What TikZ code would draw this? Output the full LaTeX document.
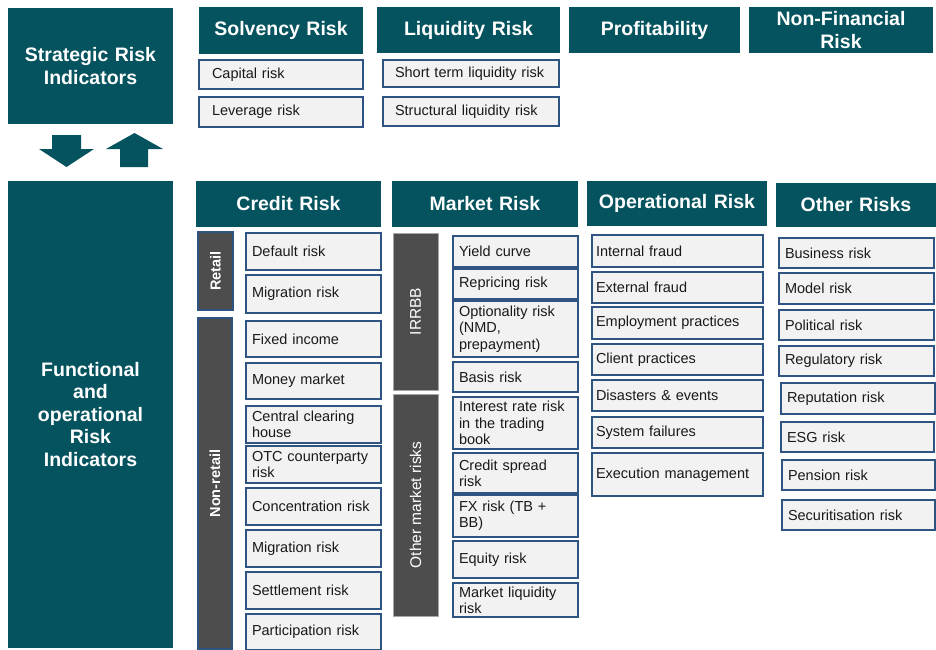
\documentclass[tikz,border=0pt]{standalone}
\usepackage{fontspec}
\setmainfont{Liberation Sans}
\definecolor{teal1}{HTML}{04535E}
\definecolor{bargray}{HTML}{4D4D4D}
\definecolor{itemfill}{HTML}{F2F2F2}
\definecolor{itemline}{HTML}{2F5482}
\tikzset{
 hdr/.style={fill=teal1, text=white, font=\fontsize{19.5}{22.5}\selectfont\bfseries, align=center, inner sep=0pt},
 item/.style={fill=itemfill, draw=itemline, line width=1.3pt, text=black!90, font=\fontsize{14.5}{16.3}\selectfont, align=left, inner ysep=0pt},
 bar/.style={fill=bargray, text=white, inner sep=0pt},
 barb/.style={bar, draw=itemline, line width=1.2pt, font=\fontsize{14.5}{16}\selectfont\bfseries},
 barg/.style={bar, draw=gray!70, line width=0.6pt, font=\fontsize{15.5}{17}\selectfont},
 arr/.style={fill=teal1},
}
% #1 x1, #2 y1, #3 x2, #4 y2, #5 name, #6 text
\newcommand\mkhdr[6]{%
 \pgfmathsetmacro\bw{#3-#1}\pgfmathsetmacro\bh{#4-#2}%
 \node[hdr, minimum width=\bw pt, minimum height=\bh pt, text width=\bw pt] (#5) at ({(#1+#3)/2},{(#2+#4)/2}) {#6};}
% #1 pad, #2 x1, #3 y1, #4 x2, #5 y2, #6 name, #7 text
\newcommand\mkitem[7]{%
 \pgfmathsetmacro\bw{#4-#2}\pgfmathsetmacro\bh{#5-#3}\pgfmathsetmacro\tw{#4-#2-2*#1}%
 \node[item, minimum width=\bw pt, minimum height=\bh pt, text width=\tw pt, inner xsep=#1pt] (#6) at ({(#2+#4)/2},{(#3+#5)/2}) {#7};}
% #1 style, #2 x1, #3 y1, #4 x2, #5 y2, #6 name, #7 text
\newcommand\mkbar[7]{%
 \pgfmathsetmacro\bw{#4-#2}\pgfmathsetmacro\bh{#5-#3}%
 \node[#1, rotate=90, minimum width=\bh pt, minimum height=\bw pt] (#6) at ({(#2+#4)/2},{(#3+#5)/2}) {#7};}
\begin{document}
\begin{tikzpicture}[x=1pt,y=-1pt]
\useasboundingbox (0,0) rectangle (936,649);
\clip (0,0) rectangle (936,649);
% top section
\mkhdr{8}{8}{173}{124}{sri}{Strategic Risk\\Indicators}
\mkhdr{199}{7}{363}{54}{solv}{Solvency Risk}
\mkhdr{377}{7}{560}{53}{liq}{Liquidity Risk}
\mkhdr{569}{7}{740}{53}{prof}{Profitability}
\mkhdr{749}{7}{933}{53}{nfr}{Non-Financial\\Risk}
\mkitem{13}{199}{60}{363}{89}{cap}{Capital risk}
\mkitem{13}{199}{97}{363}{127}{lev}{Leverage risk}
\mkitem{12}{383}{60}{559}{87}{stl}{Short term liquidity risk}
\mkitem{12}{383}{97}{559}{126}{sli}{Structural liquidity risk}
% arrows
\fill[arr] (52,135) -- (81,135) -- (81,149) -- (94,149) -- (66.5,167) -- (39,149) -- (52,149) -- cycle;
\fill[arr] (120,167) -- (148,167) -- (148,149) -- (163,149) -- (134.5,133) -- (106,149) -- (120,149) -- cycle;
% lower section
\mkhdr{8}{181}{173}{648}{fori}{Functional\\and\\operational\\Risk\\Indicators}
% credit
\mkhdr{196}{181}{381}{227}{cred}{Credit Risk}
\mkbar{barb}{198}{232}{233}{310}{retail}{Retail}
\mkbar{barb}{198}{318}{232}{649}{nonretail}{Non-retail}
\mkitem{6}{246}{233}{381}{270}{c1}{Default risk}
\mkitem{6}{246}{275}{381}{313}{c2}{Migration risk}
\mkitem{6}{246}{321}{381}{357}{c3}{Fixed income}
\mkitem{6}{246}{363}{381}{399}{c4}{Money market}
\mkitem{6}{246}{406}{381}{443}{c5}{Central clearing\\house}
\mkitem{6}{246}{446}{381}{483}{c6}{OTC counterparty\\risk}
\mkitem{6}{246}{488}{381}{525}{c7}{Concentration risk}
\mkitem{6}{246}{530}{381}{567}{c8}{Migration risk}
\mkitem{6}{246}{572}{381}{609}{c9}{Settlement risk}
\mkitem{6}{246}{614}{381}{650}{c10}{Participation risk}
% market
\mkhdr{392}{181}{578}{227}{mkt}{Market Risk}
\mkbar{barg}{393}{233}{438}{390}{irrbb}{IRRBB}
\mkbar{barg}{393}{394}{438}{616}{omr}{Other market risks}
\mkitem{6}{453}{236}{578}{267}{m1}{Yield curve}
\mkitem{6}{453}{269}{578}{299}{m2}{Repricing risk}
\mkitem{6}{453}{301}{578}{357}{m3}{Optionality risk\\(NMD,\\prepayment)}
\mkitem{6}{453}{362}{578}{392}{m4}{Basis risk}
\mkitem{6}{453}{397}{578}{449}{m5}{Interest rate risk\\in the trading\\book}
\mkitem{6}{453}{453}{578}{493}{m6}{Credit spread\\risk}
\mkitem{6}{453}{495}{578}{537}{m7}{FX risk (TB +\\BB)}
\mkitem{6}{453}{541}{578}{578}{m8}{Equity risk}
\mkitem{6}{453}{583}{578}{617}{m9}{Market liquidity\\risk}
% operational
\mkhdr{587}{181}{767}{226}{ops}{Operational Risk}
\mkitem{4}{592}{235}{763}{267}{o1}{Internal fraud}
\mkitem{4}{592}{272}{763}{303}{o2}{External fraud}
\mkitem{4}{592}{307}{763}{339}{o3}{Employment practices}
\mkitem{4}{592}{344}{763}{375}{o4}{Client practices}
\mkitem{4}{592}{380}{763}{411}{o5}{Disasters \& events}
\mkitem{4}{592}{417}{763}{448}{o6}{System failures}
\mkitem{4}{592}{453}{763}{496}{o7}{Execution management}
% other
\mkhdr{776}{183}{936}{227}{oth}{Other Risks}
\mkitem{6}{779}{238}{934}{268}{r1}{Business risk}
\mkitem{6}{779}{273}{934}{304}{r2}{Model risk}
\mkitem{6}{779}{310}{934}{340}{r3}{Political risk}
\mkitem{6}{779}{346}{934}{376}{r4}{Regulatory risk}
\mkitem{6}{781}{383}{935}{414}{r5}{Reputation risk}
\mkitem{6}{781}{422}{934}{452}{r6}{ESG risk}
\mkitem{6}{782}{460}{935}{490}{r7}{Pension risk}
\mkitem{6}{782}{500}{935}{530}{r8}{Securitisation risk}
\end{tikzpicture}
\end{document}
